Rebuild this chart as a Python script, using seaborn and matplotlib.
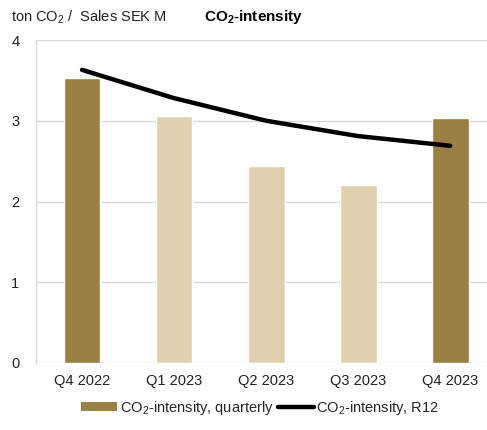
import matplotlib
matplotlib.use("Agg")
import matplotlib.pyplot as plt
from matplotlib.patches import Patch
from matplotlib.lines import Line2D
import seaborn as sns
import pandas as pd

quarters = ["Q4 2022", "Q1 2023", "Q2 2023", "Q3 2023", "Q4 2023"]
quarterly = [3.53, 3.06, 2.44, 2.20, 3.04]
rolling12 = [3.63, 3.28, 3.00, 2.81, 2.69]
bar_colors = ["#9A8042", "#DFD1B0", "#DFD1B0", "#DFD1B0", "#9A8042"]
y_ticks = [0, 1, 2, 3, 4]

sns.set_theme(style="white")
plt.rcParams["font.family"] = ["Liberation Sans", "DejaVu Sans"]
plt.rcParams["mathtext.fontset"] = "custom"
plt.rcParams["mathtext.rm"] = "Liberation Sans"
plt.rcParams["mathtext.it"] = "Liberation Sans:italic"
plt.rcParams["mathtext.bf"] = "Liberation Sans:bold"

df = pd.DataFrame({"quarter": quarters, "quarterly": quarterly, "r12": rolling12})

fig = plt.figure(figsize=(4.87, 4.30), dpi=100)
ax = fig.add_axes([36 / 487, 1 - 363 / 430, 1 - 36 / 487, (363 - 40) / 430])

sns.barplot(data=df, x="quarter", y="quarterly", hue="quarter",
            palette=bar_colors, width=0.4, legend=False, ax=ax,
            saturation=1, zorder=2)
sns.lineplot(data=df, x="quarter", y="r12", color="black", linewidth=3.2,
             ax=ax, zorder=3, solid_capstyle="round", solid_joinstyle="round")

ax.set_xlim(-0.5, 4.4)
ax.set_ylim(0, 4)
ax.set_yticks(y_ticks)
ax.yaxis.grid(True, color="#D9D9D9", linewidth=1.0, zorder=0)
ax.set_axisbelow(True)
for side in ["top", "right", "bottom"]:
    ax.spines[side].set_visible(False)
ax.spines["left"].set_color("#D9D9D9")
ax.spines["left"].set_linewidth(1.0)
ax.tick_params(axis="both", length=0, labelsize=10.5, colors="#222222", pad=8)
ax.tick_params(axis="y", pad=12)
ax.set_xlabel("")
ax.set_ylabel("")

fig.text(11 / 487, 1 - 17 / 430, r"ton CO$_2$ /  Sales SEK M", fontsize=10.5,
         va="center", ha="left", color="#222222")
fig.text(254 / 487, 1 - 17 / 430, r"CO$_\mathbf{2}$-intensity", fontsize=11,
         fontweight="bold", va="center", ha="center", color="black")

handles = [
    Patch(facecolor="#9A8042", edgecolor="none", label=r"CO$_2$-intensity, quarterly"),
    Line2D([0], [0], color="black", linewidth=3.2, label=r"CO$_2$-intensity, R12"),
]
fig.legend(handles=handles, loc="center", bbox_to_anchor=(260 / 487, 1 - 408 / 430),
           ncol=2, frameon=False, fontsize=10.5, handlelength=2.5,
           handleheight=0.6, handletextpad=0.15, columnspacing=0.3)

fig.savefig("out.png", dpi=100)
